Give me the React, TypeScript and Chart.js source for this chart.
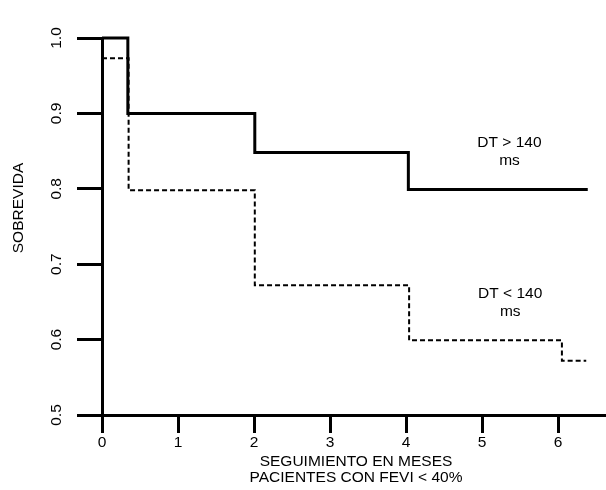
import React, { useEffect, useRef } from "react";
import { Chart, registerables } from "chart.js";

Chart.register(...registerables);

// Data (Kaplan-Meier style step curves)
const timesHigh = [0, 0.34, 2.01, 4.03, 6.39];
const survHigh = [1.0, 0.9, 0.848, 0.799, 0.799];

const timesLow = [0, 0.35, 2.01, 4.04, 6.05, 6.37];
const survLow = [0.973, 0.798, 0.672, 0.599, 0.572, 0.572];

const xTickValues = [0, 1, 2, 3, 4, 5, 6];
const xTickLabels = ["0", "1", "2", "3", "4", "5", "6"];
const yTickValues = [0.5, 0.6, 0.7, 0.8, 0.9, 1.0];
const yTickLabels = ["0.5", "0.6", "0.7", "0.8", "0.9", "1.0"];

const yTitle = "SOBREVIDA";
const xTitleLines = ["SEGUIMIENTO EN MESES", "PACIENTES CON FEVI < 40%"];
const labelHigh = ["DT > 140", "ms"];
const labelLow = ["DT < 140", "ms"];
const labelHighPos = { x: 5.36, y: 0.849 }; // data coords of annotation centre
const labelLowPos = { x: 5.37, y: 0.649 };

const FONT = '15.5px "Liberation Sans", Arial, sans-serif';

const textPlugin = {
  id: "textPlugin",
  afterDraw(chart: any) {
    const ctx = chart.ctx;
    const xs = chart.scales.x;
    const ys = chart.scales.y;
    ctx.save();
    ctx.fillStyle = "#000";
    ctx.font = FONT;
    ctx.textAlign = "center";
    ctx.textBaseline = "middle";
    // y tick labels rotated
    yTickValues.forEach((v, i) => {
      const py = ys.getPixelForValue(v);
      ctx.save();
      ctx.translate(57, py);
      ctx.rotate(-Math.PI / 2);
      ctx.fillText(yTickLabels[i], 0, 0);
      ctx.restore();
    });
    // y title
    ctx.save();
    ctx.translate(19, 208);
    ctx.rotate(-Math.PI / 2);
    ctx.fillText(yTitle, 0, 0);
    ctx.restore();
    // x tick labels
    xTickValues.forEach((v, i) => {
      ctx.fillText(xTickLabels[i], xs.getPixelForValue(v), 443);
    });
    // x title
    const cx = (chart.chartArea.left + chart.chartArea.right) / 2 + 2;
    ctx.fillText(xTitleLines[0], cx, 462);
    ctx.fillText(xTitleLines[1], cx, 478);
    // annotations
    const drawLabel = (lines: string[], pos: { x: number; y: number }) => {
      const px = xs.getPixelForValue(pos.x);
      const py = ys.getPixelForValue(pos.y);
      ctx.fillText(lines[0], px, py - 9);
      ctx.fillText(lines[1], px, py + 9);
    };
    drawLabel(labelHigh, labelHighPos);
    drawLabel(labelLow, labelLowPos);
    ctx.restore();
  },
};

export default function App() {
  const ref = useRef<HTMLCanvasElement | null>(null);
  useEffect(() => {
    if (!ref.current) return;
    const chart = new Chart(ref.current, {
      type: "line",
      data: {
        datasets: [
          {
            label: "DT > 140 ms",
            data: timesHigh.map((t, i) => ({ x: t, y: survHigh[i] })),
            borderColor: "#000",
            borderWidth: 3,
            stepped: "before",
            pointRadius: 0,
            fill: false,
            clip: false as any,
          },
          {
            label: "DT < 140 ms",
            data: timesLow.map((t, i) => ({ x: t, y: survLow[i] })),
            borderColor: "#000",
            borderWidth: 2,
            borderDash: [5, 3],
            stepped: "before",
            pointRadius: 0,
            fill: false,
            clip: false as any,
          },
        ],
      },
      options: {
        animation: false,
        responsive: false,
        layout: { padding: { left: 0, top: 38, right: 0, bottom: 0 } },
        plugins: { legend: { display: false }, tooltip: { enabled: false } },
        scales: {
          x: {
            type: "linear",
            min: 0,
            max: 6.63,
            afterBuildTicks: (s: any) => {
              s.ticks = xTickValues.map((v) => ({ value: v }));
            },
            afterFit: (s: any) => {
              s.height = 75;
            },
            ticks: { display: false },
            grid: {
              drawOnChartArea: false,
              drawTicks: true,
              tickLength: 18,
              color: "#000",
              lineWidth: 3,
            },
            border: { display: true, color: "#000", width: 3 },
          },
          y: {
            type: "linear",
            min: 0.5,
            max: 1.0,
            afterBuildTicks: (s: any) => {
              s.ticks = yTickValues.map((v) => ({ value: v }));
            },
            afterFit: (s: any) => {
              s.width = 102;
            },
            ticks: { display: false },
            grid: {
              drawOnChartArea: false,
              drawTicks: true,
              tickLength: 25,
              color: "#000",
              lineWidth: 3,
            },
            border: { display: true, color: "#000", width: 3 },
          },
        },
      },
      plugins: [textPlugin],
    });
    return () => chart.destroy();
  }, []);
  return (
    <div style={{ position: "absolute", left: 0, top: 0, width: 606, height: 490, background: "#fff" }}>
      <canvas ref={ref} width={606} height={490} style={{ width: 606, height: 490, display: "block" }} />
    </div>
  );
}
